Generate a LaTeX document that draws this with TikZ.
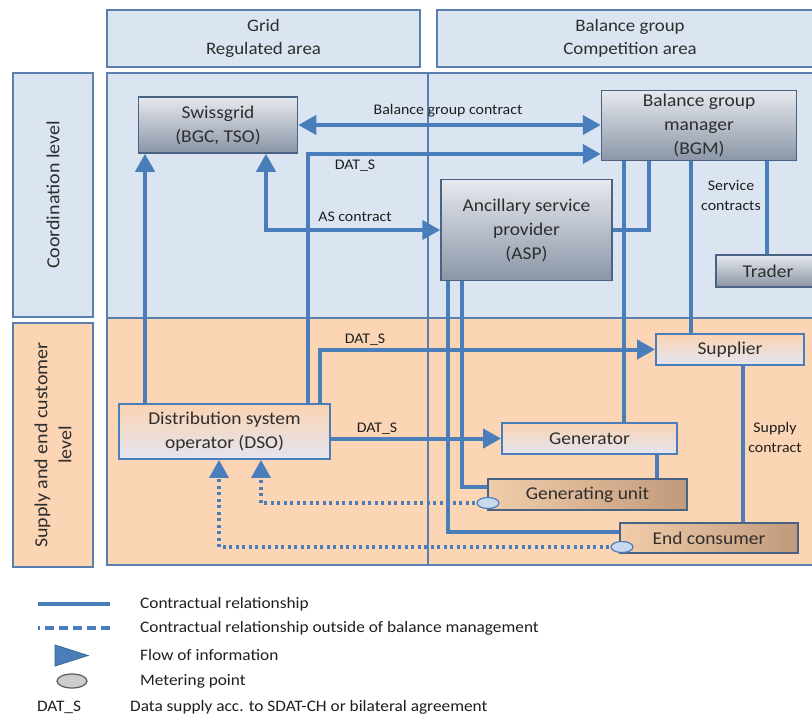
\documentclass[tikz,border=0pt]{standalone}
\usepackage{fontspec}
\setmainfont{Carlito}[FakeStretch=1.08]
\usetikzlibrary{arrows.meta,shapes.geometric,calc}
\definecolor{ln}{HTML}{4A7EBB}
\definecolor{frame}{HTML}{5A7FAE}
\definecolor{bluebg}{HTML}{DBE5F1}
\definecolor{orbg}{HTML}{FCD5B4}
\definecolor{txt}{HTML}{2E2E2E}
\definecolor{graytop}{HTML}{E6E9EE}
\definecolor{graybot}{HTML}{8A95A6}
\definecolor{grayedge}{HTML}{4A6284}
\definecolor{ortop}{HTML}{FBD3B2}
\definecolor{orbot}{HTML}{E3E5F0}
\definecolor{brlight}{HTML}{F2CDAB}
\definecolor{brdark}{HTML}{C09A7A}
\definecolor{meterfill}{HTML}{C9D9EE}
\tikzset{
  boxfont/.style={font=\fontsize{18}{24}\selectfont, text=txt, align=center},
  graybox/.style={boxfont, draw=grayedge, line width=1.5pt, top color=graytop, bottom color=graybot, inner sep=0pt},
  orbox/.style={boxfont, draw=ln, line width=1.8pt, top color=ortop, bottom color=orbot, inner sep=0pt},
  brbox/.style={boxfont, draw=grayedge, line width=1.5pt, left color=brlight, right color=brdark, inner sep=0pt},
  region/.style={draw=frame, line width=1.5pt},
  lbl/.style={font=\fontsize{14.7}{20}\selectfont, text=black!88, align=center, inner sep=1pt},
  legtxt/.style={font=\fontsize{16}{20}\selectfont, text=black!88, anchor=west, inner sep=0pt},
  conn/.style={draw=ln, line width=4pt},
  flow/.style={conn, -{Triangle[length=18pt,width=19pt]}},
  flowtwo/.style={conn, {Triangle[length=18pt,width=19pt]}-{Triangle[length=18pt,width=19pt]}},
  dotflow/.style={draw=ln, line width=3.5pt, dash pattern=on 3pt off 3.5pt, -{Triangle[length=18pt,width=19pt]}},
  meter/.style={ellipse, draw=ln, line width=1.2pt, fill=meterfill, minimum width=22pt, minimum height=11pt, inner sep=0pt}
}
\begin{document}
\begin{tikzpicture}[x=1pt,y=-1pt]
\clip (0,0) rectangle (812,717);
\fill[white] (0,0) rectangle (812,717);
% headers
\node[region, fill=bluebg, boxfont, font=\fontsize{17.5}{23}\selectfont, minimum width=313pt, minimum height=57pt, inner sep=0pt] (hgrid) at (263.5,38.5) {Grid\\Regulated area};
\draw[region, fill=bluebg] (437,10) rectangle (830,67);
\node[boxfont, font=\fontsize{17.5}{23}\selectfont] (hbal) at (630,38.5) {Balance group\\Competition area};
% left labels
\node[region, fill=bluebg, minimum width=80pt, minimum height=244pt, inner sep=0pt] (lcoord) at (53,195) {};
\node[boxfont, font=\fontsize{18.5}{24}\selectfont, rotate=90] at (lcoord) {Coordination level};
\node[region, fill=orbg, minimum width=80pt, minimum height=244pt, inner sep=0pt] (lsupply) at (53,445) {};
\node[boxfont, font=\fontsize{18.5}{24}\selectfont, rotate=90] at (lsupply) {Supply and end customer\\level};
% regions
\draw[region, fill=bluebg] (107,73) rectangle (830,318);
\draw[region, fill=orbg] (107,318) rectangle (830,565);
\draw[draw=frame, line width=1.5pt] (428,73) -- (428,565);
% nodes
\node[graybox, minimum width=159pt, minimum height=56pt] (sg) at (218,125) {Swissgrid\\(BGC, TSO)};
\node[graybox, minimum width=195pt, minimum height=70pt] (bgm) at (699,125.5) {Balance group\\manager\\(BGM)};
\node[graybox, minimum width=171pt, minimum height=101pt] (asp) at (526.5,230) {Ancillary service\\provider\\(ASP)};
\node[graybox, minimum width=104pt, minimum height=32pt] (trader) at (768,271) {Trader};
\node[orbox, minimum width=148pt, minimum height=31pt] (supplier) at (730,349.5) {Supplier};
\node[orbox, minimum width=211pt, minimum height=55pt] (dso) at (224.5,431.5) {Distribution system\\operator (DSO)};
\node[orbox, minimum width=175pt, minimum height=31pt] (gen) at (589.5,438.5) {Generator};
\node[brbox, minimum width=199pt, minimum height=31pt] (gu) at (587.5,494.5) {Generating unit};
\node[brbox, minimum width=178pt, minimum height=30pt] (ec) at (709,538) {End consumer};
% connectors
\draw[flowtwo] (sg.east) -- (sg.east -| bgm.west);
\node[lbl] (lbgc) at (448,111) {Balance group contract};
\draw[flow] (145,0 |- dso.north) -- (145,0 |- sg.south);
\draw[flow] (308,0 |- dso.north) |- (bgm.west |- 0,154);
\node[lbl] (ld1) at (355,166) {DAT\_S};
\draw[flow] (320,0 |- dso.north) |- (supplier.west);
\node[lbl] (ld2) at (365,340) {DAT\_S};
\draw[flow] (dso.east |- gen.west) -- (gen.west);
\node[lbl] (ld3) at (377,429) {DAT\_S};
\draw[flowtwo] (266,0 |- sg.south) |- (asp.west);
\node[lbl] (las) at (355,217) {AS contract};
\draw[conn] (649,0 |- bgm.south) |- (asp.east);
\draw[conn] (624,0 |- bgm.south) -- (624,0 |- gen.north);
\draw[conn] (691,0 |- bgm.south) -- (691,0 |- supplier.north);
\draw[conn] (767,0 |- bgm.south) -- (767,0 |- trader.north);
\node[lbl] (lsc) at (731,195) {Service\\contracts};
\draw[conn] (462,0 |- asp.south) |- (gu.west |- 0,487);
\draw[conn] (448,0 |- asp.south) |- (ec.west |- 0,532);
\draw[conn] (657,0 |- gen.south) -- (657,0 |- gu.north);
\draw[conn] (743,0 |- supplier.south) -- (743,0 |- ec.north);
\node[lbl] (lsup) at (775,437) {Supply\\contract};
% metering points
\coordinate (m1c) at (488,503);
\coordinate (m2c) at (622,547);
\draw[dotflow] (m1c) -| (261,0 |- dso.south);
\draw[dotflow] (m2c) -| (219,0 |- dso.south);
\node[meter] (m1) at (m1c) {};
\node[meter] (m2) at (m2c) {};
% legend
\coordinate (l1a) at (38,604); \coordinate (l1b) at (110,604);
\draw[draw=ln, line width=3.5pt] (l1a) -- (l1b);
\node[legtxt] (t1) at (140,604) {Contractual relationship};
\coordinate (l2a) at (38,628); \coordinate (l2b) at (110,628);
\draw[draw=ln, line width=3.5pt, dash pattern=on 9pt off 5pt, dash phase=7pt] (l2a) -- (l2b);
\node[legtxt] (t2) at (140,628) {Contractual relationship outside of balance management};
\draw[fill=ln, draw=ln!80!black, line width=0.8pt] (55,645) -- (88,655.5) -- (55,666) -- cycle;
\node[legtxt] (t3) at (140,655) {Flow of information};
\node[ellipse, draw=black!65, line width=1.2pt, fill=black!20, minimum width=30pt, minimum height=14pt] (lm) at (72,681) {};
\node[legtxt] (t4) at (140,681) {Metering point};
\node[font=\fontsize{16}{20}\selectfont, text=black!88] (ldat) at (59,707) {DAT\_S};
\node[legtxt] (t5) at (130,707) {Data supply acc. to SDAT-CH or bilateral agreement};
\end{tikzpicture}
\end{document}
